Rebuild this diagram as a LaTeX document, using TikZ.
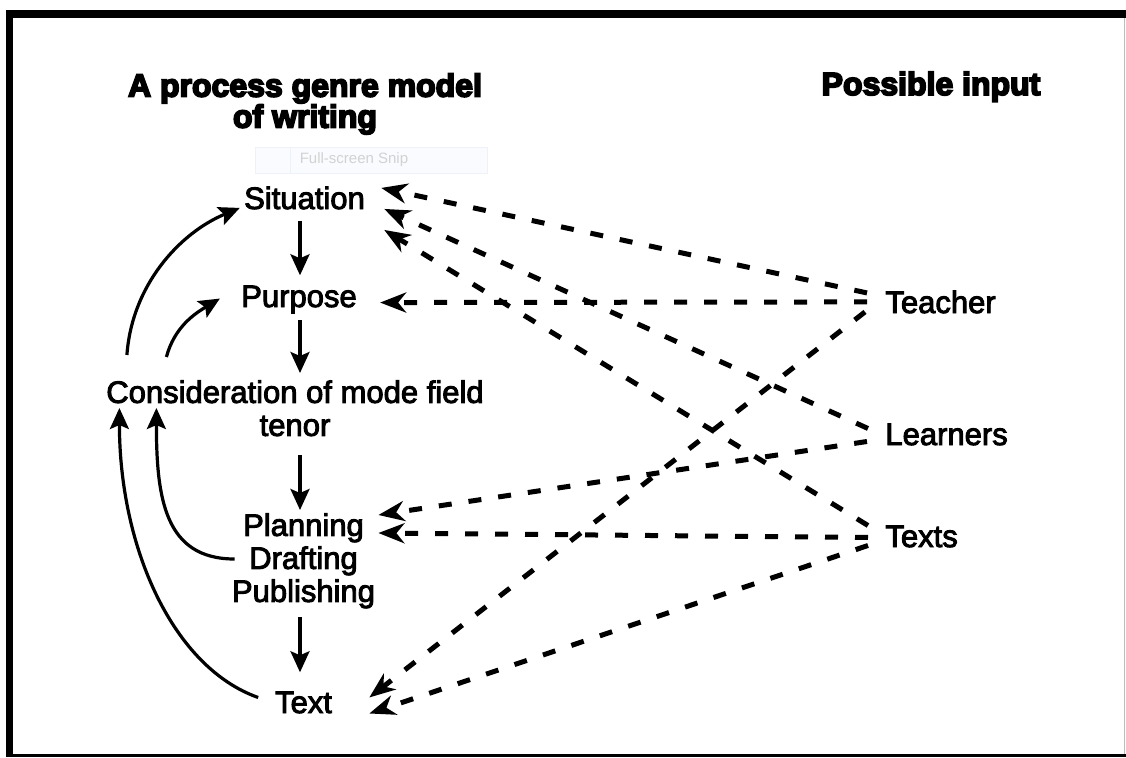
\documentclass[tikz,border=0pt]{standalone}
\usepackage{fontspec}
\setmainfont[FakeBold=3]{Liberation Sans}
\newfontfamily\headfont[BoldFeatures={FakeBold=5.5}]{Liberation Sans}
\newfontfamily\snipfont{Liberation Sans}
\usepackage{tikz}
\usetikzlibrary{arrows.meta,calc}
\tikzstyle{lbl}=[inner sep=0pt, font=\fontsize{15.5}{16.5}\selectfont, align=center]
\tikzstyle{hdr}=[inner sep=0pt, font=\headfont\bfseries\fontsize{16}{15.5}\selectfont, align=center]
\tikzstyle{l1}=[line width=1.6pt, -{Stealth[length=10.5pt, width=9.5pt, inset=2pt]}]
\tikzstyle{inp}=[line width=2.5pt, dash pattern=on 6.5pt off 8.5pt, -{Stealth[length=13pt, width=10pt, inset=4pt]}]
\usepackage{xcolor}
\definecolor{snipfill}{HTML}{FAFBFE}
\definecolor{snipedge}{HTML}{EEF1F7}
\definecolor{sniptext}{HTML}{D2D2D2}
\definecolor{rimgray}{HTML}{BDBDBD}

\begin{document}
\begin{tikzpicture}[x=0.5pt, y=-0.5pt]
    \useasboundingbox (0,0) rectangle (1126,757);
    \fill[black] (6,10) rectangle (13,757);
    \fill[black] (6,10) rectangle (1126,18);
    \fill[black] (6,754) rectangle (1126,757);
    \draw[rimgray, line width=0.6pt] (1124.5,18) -- (1124.5,754);

    \draw[snipedge, fill=snipfill] (255,147) rectangle (487,173);
    \draw[snipedge] (290,147) -- (290,173);
    \node[inner sep=0pt, text=sniptext, font=\snipfont\fontsize{7.5}{9}\selectfont] (snip) at (354,160) {Full-screen Snip};

    \node[hdr, anchor=north] (genre) at (305,73) {A process genre model\\of writing};
    \node[hdr, anchor=base] (input) at (931,95) {Possible input};

    \node[lbl, anchor=base] (situation) at (304.5,209) {Situation};
    \node[lbl, anchor=base] (purpose) at (299,307) {Purpose};
    \node[lbl, anchor=north] (consider) at (295,380) {Consideration of mode field\\tenor};
    \node[lbl, anchor=north] (planning) at (303.5,513) {Planning\\Drafting\\Publishing};
    \node[lbl, anchor=base] (text) at (303.5,713) {Text};

    \node[lbl, anchor=base west] (teacher) at (885,313) {Teacher};
    \node[lbl, anchor=base west] (learners) at (885,445) {Learners};
    \node[lbl, anchor=base west] (texts) at (885,547) {Texts};

    \draw[l1] ([shift={(-4.5,11)}]situation.south) -- ([shift={(1,-10)}]purpose.north);
    \draw[l1] ([shift={(1,6.5)}]purpose.south) -- ([shift={(5,-7)}]consider.north);
    \draw[l1] ([shift={(5,75)}]consider.north) -- ([shift={(-3.5,-3)}]planning.north);
    \draw[l1] ([shift={(-3.5,104)}]planning.north) -- ([shift={(-3.5,-19)}]text.north);

    \draw[l1] ([shift={(21,-25)}]consider.north west) .. controls +(5,-70) and +(-60,25) .. ([shift={(-4,10)}]situation.west);
    \draw[l1] ([shift={(60.5,-23)}]consider.north west) .. controls +(8,-30) and +(-25,15) .. ([shift={(-21,-1)}]purpose.west);
    \draw[l1] ([shift={(-16.5,-5)}]text.west) .. controls +(-85,-30) and +(0,140) .. ([shift={(13.5,28)}]consider.north west);
    \draw[l1] ([shift={(3,46)}]planning.north west) .. controls +(-70,0) and +(0,90) .. ([shift={(50.5,28)}]consider.north west);

    \draw[inp] ([shift={(-18,-9)}]teacher.west) -- ([shift={(16,-10)}]situation.east);
    \draw[inp] ([shift={(-18,0)}]teacher.west) -- ([shift={(23,3)}]purpose.east);
    \draw[inp] ([shift={(-20,10)}]teacher.west) -- ([shift={(37,-5)}]text.east);
    \draw[inp] ([shift={(-17,-6)}]learners.west) -- ([shift={(19,11)}]situation.east);
    \draw[inp] ([shift={(-18,7)}]learners.west) -- ([shift={(3,2)}]planning.north east);
    \draw[inp] ([shift={(-17,-11)}]texts.west) -- ([shift={(19,32)}]situation.east);
    \draw[inp] ([shift={(-17,1)}]texts.west) -- ([shift={(3,20)}]planning.north east);
    \draw[inp] ([shift={(-17,9)}]texts.west) -- ([shift={(37,11)}]text.east);
\end{tikzpicture}
\end{document}
